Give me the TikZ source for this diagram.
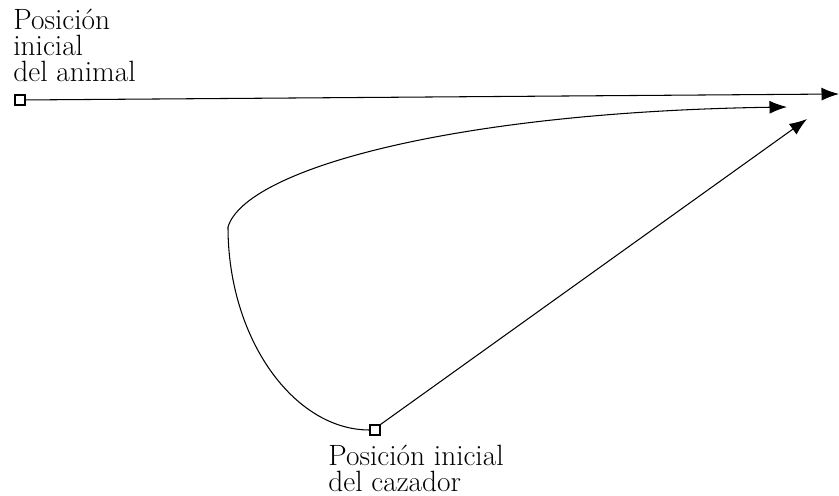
\documentclass[tikz,border=0pt]{standalone}
\usepackage{fontspec}
\usetikzlibrary{positioning,arrows.meta}

\begin{document}
\begin{tikzpicture}[
        x=0.02cm, y=-0.02cm,
        start/.style={draw, fill=white, minimum size=0.2cm, inner sep=0pt, line width=0.6pt},
        lbl/.style={align=left, inner sep=0pt, font=\fontsize{16.7}{14.8}\selectfont},
        path/.style={-{Latex[length=3.5mm, width=2.6mm]}, line width=0.6pt}
    ]
        \useasboundingbox (0,0) rectangle (839,496);

        \node[start] (animal) at (20,100) {};
        \node[start] (hunter) at (375,430) {};
        \coordinate (animalend) at (839,94);
        \coordinate (curveend) at (787,107);
        \coordinate (lineend) at (807,119);
        \coordinate (turn) at (228,227);

        % base anchor sits on the last line
        \node[lbl, anchor=base west] (animallbl) at (13,82) {Posición\\inicial\\del animal};
        \node[lbl, anchor=base west] (hunterlbl) at (328,492) {Posición inicial\\del cazador};

        \draw[path] (animal) -- (animalend);
        \draw[path] (hunter.north east) -- (lineend);
        \draw[path] (hunter.west) .. controls (294,430) and (228,339) .. (turn)
            .. controls (245,170) and (450,112) .. (curveend);
    \end{tikzpicture}
\end{document}
